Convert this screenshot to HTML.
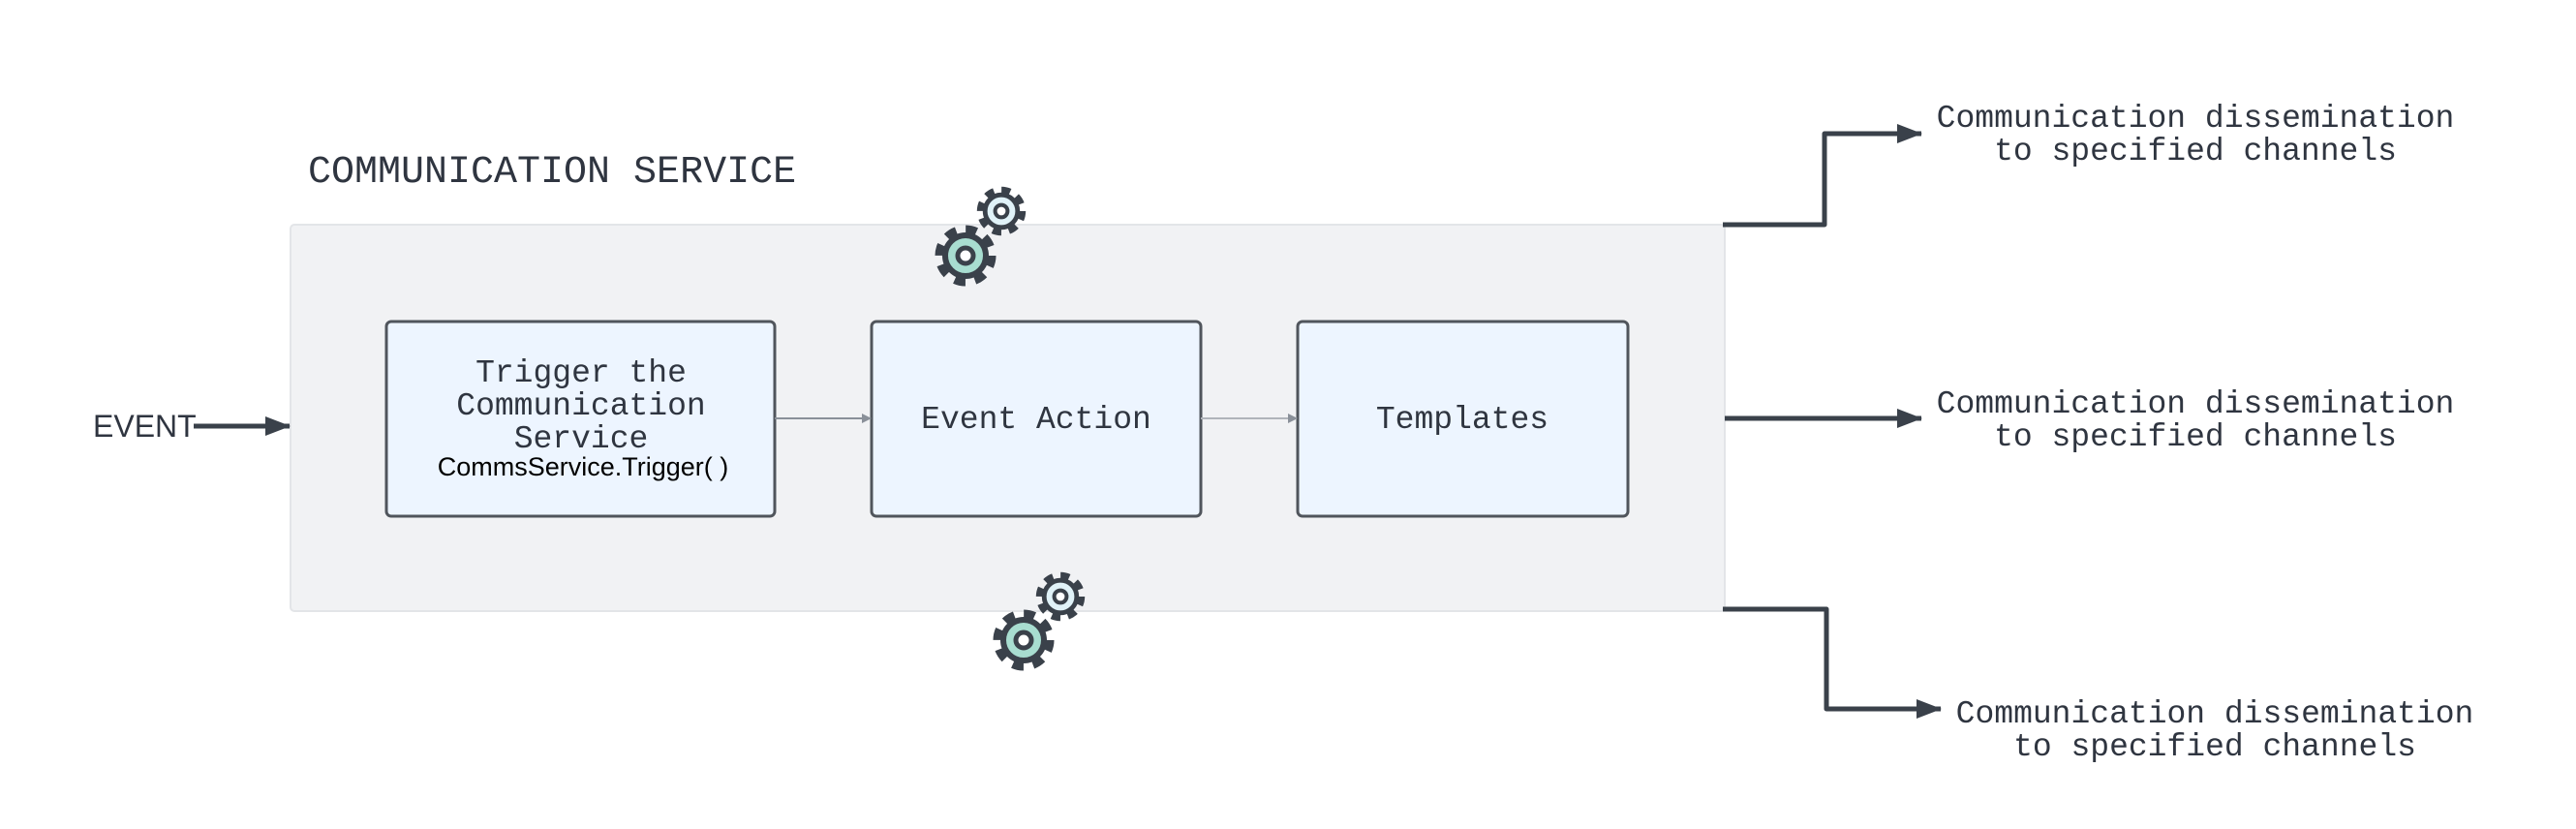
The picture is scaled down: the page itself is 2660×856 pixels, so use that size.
<!DOCTYPE html>
<html><head><meta charset="utf-8"><style>
html,body{margin:0;padding:0;background:#fff;}
svg{display:block}
.m{font-family:"Liberation Mono",monospace;fill:#2f3540}
</style></head><body>
<svg width="2660" height="856" viewBox="0 0 2660 856" xmlns="http://www.w3.org/2000/svg">
<defs>
<marker id="ah" markerWidth="10" markerHeight="10" refX="9" refY="5" orient="auto" markerUnits="userSpaceOnUse">
<path d="M0,0 L10,5 L0,10 z" fill="#8a9099"/></marker>
<marker id="ahb" markerWidth="26" markerHeight="20" refX="25" refY="10" orient="auto" markerUnits="userSpaceOnUse">
<path d="M0,0 L26,10 L0,20 z" fill="#3a414a"/></marker>
<g id="gear">
<circle r="25" fill="none" stroke="#3a414a" stroke-width="13" stroke-dasharray="10.5 9.13"/>
<circle r="21" fill="currentColor" stroke="#3a414a" stroke-width="6"/>
<circle r="8" fill="#fff" stroke="#3a414a" stroke-width="5"/>
</g>
</defs>
<text x="318" y="188" class="m" font-size="40">COMMUNICATION SERVICE</text>
<rect x="300" y="232" width="1481" height="399" rx="4" fill="#f1f2f4" stroke="#e3e5e8" stroke-width="2"/>
<rect x="399" y="332" width="401" height="201" rx="5" fill="#edf5ff" stroke="#50555c" stroke-width="3"/>
<rect x="900" y="332" width="340" height="201" rx="5" fill="#edf5ff" stroke="#50555c" stroke-width="3"/>
<rect x="1340" y="332" width="341" height="201" rx="5" fill="#edf5ff" stroke="#50555c" stroke-width="3"/>
<g class="m" font-size="33" text-anchor="middle">
<text x="600" y="394">Trigger the</text>
<text x="600" y="428">Communication</text>
<text x="600" y="462">Service</text>
<text x="1070" y="442">Event Action</text>
<text x="1510" y="442">Templates</text>
</g>
<text x="602" y="491" text-anchor="middle" font-family="Liberation Sans,sans-serif" font-size="27" fill="#000">CommsService.Trigger( )</text>
<line x1="800" y1="432" x2="899" y2="432" stroke="#8a9099" stroke-width="2" marker-end="url(#ah)"/>
<line x1="1240" y1="432" x2="1339" y2="432" stroke="#b0b4ba" stroke-width="2" marker-end="url(#ah)"/>
<text x="96" y="451" font-family="Liberation Sans,sans-serif" font-size="32" fill="#2f3540">EVENT</text>
<line x1="200" y1="440" x2="299" y2="440" stroke="#3a414a" stroke-width="5" marker-end="url(#ahb)"/>
<g fill="none" stroke="#3a414a" stroke-width="5" stroke-linejoin="round">
<path d="M1779,232 H1884 V138 H1984" marker-end="url(#ahb)"/>
<path d="M1781,432 H1984" marker-end="url(#ahb)"/>
<path d="M1779,629 H1886 V732 H2004" marker-end="url(#ahb)"/>
</g>
<g class="m" font-size="33" text-anchor="middle">
<text x="2267" y="131">Communication dissemination</text>
<text x="2267" y="165">to specified channels</text>
<text x="2267" y="426">Communication dissemination</text>
<text x="2267" y="460">to specified channels</text>
<text x="2287" y="746">Communication dissemination</text>
<text x="2287" y="780">to specified channels</text>
</g>
<use href="#gear" transform="translate(1034,218) scale(0.8)" style="color:#e0f2f8"/>
<use href="#gear" transform="translate(997,264)" style="color:#a8ddd0"/>
<use href="#gear" transform="translate(1095,616) scale(0.8)" style="color:#e0f2f8"/>
<use href="#gear" transform="translate(1057,661)" style="color:#a8ddd0"/>
</svg>
</body></html>
